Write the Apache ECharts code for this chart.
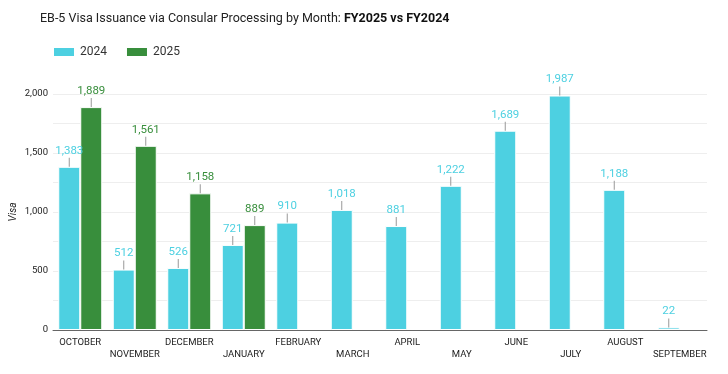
<!DOCTYPE html>
<html><head><meta charset="utf-8">
<script src="https://cdn.jsdelivr.net/npm/echarts@6/dist/echarts.min.js"></script>
<style>html,body{margin:0;padding:0;background:#fff}#c{width:728px;height:374px}</style>
</head><body><div id="c"></div>
<script>
const months = ['OCTOBER','NOVEMBER','DECEMBER','JANUARY','FEBRUARY','MARCH','APRIL','MAY','JUNE','JULY','AUGUST','SEPTEMBER'];
const fy2024 = [1383,512,526,721,910,1018,881,1222,1689,1987,1188,22];
const fy2025 = [1889,1561,1158,889,null,null,null,null,null,null,null,null];
const yTicks = [0,500,1000,1500,2000];

const blue = '#4dd0e1', green = '#388e3c';
const narrow = '"Liberation Sans Narrow", Roboto, sans-serif';
function lbl(color){
  return {show:true, position:'top', distance:0,
    formatter: p => '{v|' + p.value.toLocaleString('en-US') + '}\n{l|}',
    rich:{ v:{color:color, fontSize:11.5, fontFamily:'Roboto', padding:[0,0,1,0]},
           l:{width:1, height:9, backgroundColor:'#999'} } };
}
const chart = echarts.init(document.getElementById('c'));
chart.setOption({
  animation:false,
  title:{left:35, top:7, text:'{n|EB-5 Visa Issuance via Consular Processing by Month: }{b|FY2025 vs FY2024}',
    textStyle:{fontWeight:'normal', rich:{n:{fontSize:12.5,fontFamily:'Roboto',fontWeight:'normal',color:'#222'}, b:{fontSize:12.5,fontFamily:'Roboto',fontWeight:'bold',color:'#111'}}}},
  legend:{left:47, top:41, itemWidth:22, itemHeight:10, itemGap:18, icon:'rect',
    textStyle:{fontFamily:'Roboto', fontSize:12, color:'#333'}},
  grid:{left:53, right:21, top:94, bottom:44, outerBoundsMode:'none'},
  xAxis:{type:'category', data:months,
    axisTick:{show:false}, axisLine:{lineStyle:{color:'#666'}},
    axisLabel:{interval:0, fontFamily:narrow, fontSize:9.5, color:'#222', margin:7, lineHeight:12,
      formatter:(v,i)=> i%2 ? '\n'+v : v}},
  yAxis:{type:'value', min:0, max:2000, interval:250,
    name:'Visa', nameLocation:'middle', nameGap:35, nameRotate:90, nameMoveOverlap:false,
    nameTextStyle:{fontFamily:'Roboto', fontSize:10, fontStyle:'italic', color:'#222'},
    axisLabel:{fontFamily:narrow, fontSize:9.5, color:'#222', margin:5,
      formatter: v => yTicks.includes(v) ? v.toLocaleString('en-US') : ''},
    splitLine:{lineStyle:{color:'#eee'}}, axisLine:{show:false}, axisTick:{show:false}},
  series:[
    {name:'2024', type:'bar', data:fy2024, barWidth:22, barGap:'0%',
      itemStyle:{color:blue, borderColor:'#fff', borderWidth:1}, label:lbl(blue)},
    {name:'2025', type:'bar', data:fy2025, barWidth:22,
      itemStyle:{color:green, borderColor:'#fff', borderWidth:1}, label:lbl(green)}
  ]
});
</script></body></html>
